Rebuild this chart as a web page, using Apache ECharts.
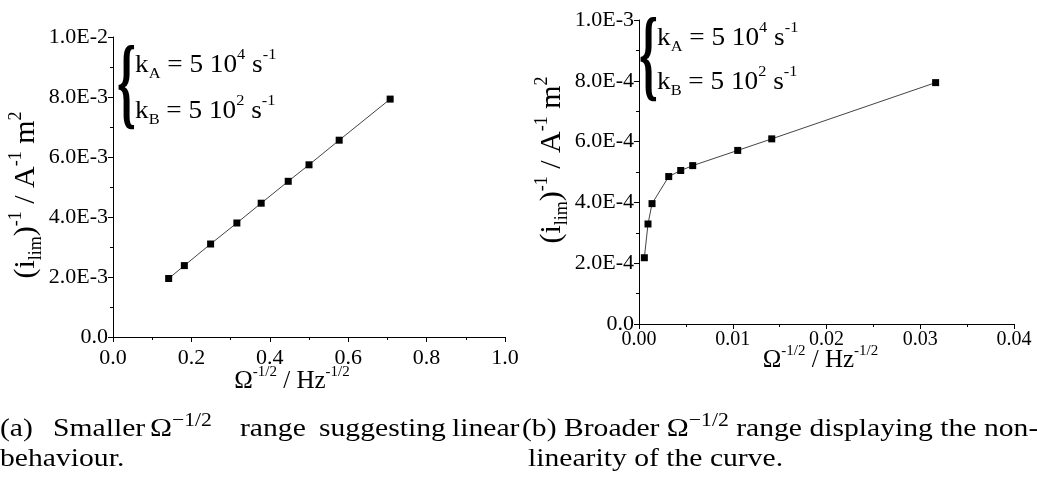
<!DOCTYPE html>
<html>
<head>
<meta charset="utf-8">
<script src="https://cdn.jsdelivr.net/npm/echarts@6/dist/echarts.min.js"></script>
<style>
  html, body { margin: 0; padding: 0; background: #fff; }
  #chart { width: 1037px; height: 483px; }
</style>
</head>
<body>
<div id="chart"></div>
<script>
// (a) smaller range
const xA = [0.142, 0.182, 0.249, 0.316, 0.378, 0.447, 0.500, 0.577, 0.707]
const yA = [1.95e-3, 2.38e-3, 3.10e-3, 3.80e-3, 4.46e-3, 5.19e-3, 5.74e-3, 6.56e-3, 7.93e-3]
// (b) broader range
const xB = [0.00057, 0.00096, 0.00139, 0.00317, 0.00445, 0.00573, 0.01053, 0.01416, 0.03164]
const yB = [2.18e-4, 3.29e-4, 3.96e-4, 4.85e-4, 5.05e-4, 5.21e-4, 5.71e-4, 6.09e-4, 7.94e-4]

const serif = '"Liberation Serif", "Times New Roman", serif'

function sci(v) {
  if (Math.abs(v) < 1e-12) return '0.0'
  const e = Math.floor(Math.log10(v) + 1e-9)
  const m = v / Math.pow(10, e)
  return m.toFixed(1) + 'E' + e
}

function xAxisOf(idx, max, interval, digits, gap, shift, labelSize, labelMargin) {
  return {
    gridIndex: idx,
    type: 'value',
    min: 0,
    max: max,
    interval: interval,
    name: 'Ω{sup|-1/2} / Hz{sup|-1/2}',
    nameLocation: 'middle',
    nameGap: gap,
    nameMoveOverlap: false,
    nameTextStyle: {
      fontFamily: serif, fontSize: 25, lineHeight: 32, color: '#000',
      padding: [0, shift, 0, 0],
      rich: { sup: { fontSize: 15, lineHeight: 15, verticalAlign: 'top', fontFamily: serif, color: '#000' } }
    },
    axisLine: { show: true, lineStyle: { color: '#000', width: 1 } },
    axisTick: { show: true, inside: false, length: 5, lineStyle: { color: '#000' } },
    minorTick: { show: true, splitNumber: 2, length: 3, lineStyle: { color: '#000' } },
    splitLine: { show: false },
    axisLabel: {
      fontFamily: serif, fontSize: labelSize, color: '#000', margin: labelMargin,
      formatter: v => v.toFixed(digits)
    }
  }
}

function yAxisOf(idx, max, interval, gap, pad) {
  return {
    gridIndex: idx,
    type: 'value',
    min: 0,
    max: max,
    interval: interval,
    name: '(i{sub|lim}){sup|-1} / A{sup|-1} m{sup|2}',
    nameLocation: 'middle',
    nameRotate: 90,
    nameGap: gap,
    nameTextStyle: {
      fontFamily: serif, fontSize: 30, lineHeight: 38, color: '#000',
      padding: pad,
      rich: {
        sup: { fontSize: 18, lineHeight: 18, verticalAlign: 'top', fontFamily: serif, color: '#000' },
        sub: { fontSize: 18, lineHeight: 18, verticalAlign: 'bottom', fontFamily: serif, color: '#000' }
      }
    },
    axisLine: { show: true, lineStyle: { color: '#000', width: 1 } },
    axisTick: { show: true, inside: false, length: 5, lineStyle: { color: '#000' } },
    minorTick: { show: true, splitNumber: 2, length: 3, lineStyle: { color: '#000' } },
    splitLine: { show: false },
    axisLabel: {
      fontFamily: serif, fontSize: 22, color: '#000', margin: 5,
      formatter: sci
    }
  }
}

function annot(x, y1, y2) {
  const rich = {
    sup: { fontSize: 15, lineHeight: 15, verticalAlign: 'top', fontFamily: serif, fill: '#000' },
    sub: { fontSize: 15, lineHeight: 15, verticalAlign: 'bottom', fontFamily: serif, fill: '#000' }
  }
  return [
    {
      type: 'text', x: x - 18, y: (y1 + y2) / 2 + 2, scaleX: 0.5, scaleY: 1.05,
      style: { text: '{', fontFamily: serif, fontSize: 96, fontWeight: 'bold', fill: '#000', verticalAlign: 'middle', align: 'left' }
    },
    {
      type: 'text', x: x, y: y1, scaleX: 1.09,
      style: { text: 'k{sub|A} = 5 10{sup|4} s{sup|-1}', fontFamily: serif, fontSize: 25, lineHeight: 34, fill: '#000', verticalAlign: 'middle', align: 'left', rich: rich }
    },
    {
      type: 'text', x: x, y: y2, scaleX: 1.09,
      style: { text: 'k{sub|B} = 5 10{sup|2} s{sup|-1}', fontFamily: serif, fontSize: 25, lineHeight: 34, fill: '#000', verticalAlign: 'middle', align: 'left', rich: rich }
    }
  ]
}

function cap(text, x, y) {
  return {
    type: 'text', x: x, y: y, scaleX: 1.14,
    style: {
      text: text, fontFamily: serif, fontSize: 26, lineHeight: 34, fill: '#000',
      verticalAlign: 'middle', align: 'left',
      rich: { sup: { fontSize: 19, lineHeight: 19, verticalAlign: 'top', fontFamily: serif, fill: '#000' } }
    }
  }
}

const chart = echarts.init(document.getElementById('chart'), null, { renderer: 'canvas' })

const option = {
  animation: false,
  backgroundColor: '#fff',
  grid: [
    { left: 113, top: 37, width: 392, height: 300 },
    { left: 639, top: 20, width: 375, height: 304 }
  ],
  xAxis: [
    xAxisOf(0, 1.0, 0.2, 1, 28, 34, 22, 10),
    xAxisOf(1, 0.04, 0.01, 2, 20, 12, 20, 6)
  ],
  yAxis: [yAxisOf(0, 0.01, 0.002, 65, [0, 16, 0, 0]), yAxisOf(1, 0.001, 0.0002, 66, [0, 0, 0, 24])],
  series: [
    {
      type: 'line', xAxisIndex: 0, yAxisIndex: 0,
      data: xA.map((x, i) => [x, yA[i]]),
      symbol: 'rect', symbolSize: 7,
      itemStyle: { color: '#000' },
      lineStyle: { color: '#444', width: 1 }
    },
    {
      type: 'line', xAxisIndex: 1, yAxisIndex: 1,
      data: xB.map((x, i) => [x, yB[i]]),
      symbol: 'rect', symbolSize: 7,
      itemStyle: { color: '#000' },
      lineStyle: { color: '#444', width: 1 }
    }
  ],
  graphic: [
    ...annot(135, 65, 111),
    ...annot(657, 38, 82),
    // captions
    cap('(a)', 0, 429),
    cap('Smaller', 53, 429),
    cap('Ω{sup|−1/2}', 150, 429),
    cap('range', 240, 429),
    cap('suggesting', 319, 429),
    cap('linear', 452, 429),
    cap('behaviour.', 0, 459),
    cap('(b) Broader Ω{sup|−1/2} range displaying the non-', 522, 429),
    cap('linearity of the curve.', 528, 459)
  ]
}

chart.setOption(option)
</script>
</body>
</html>
